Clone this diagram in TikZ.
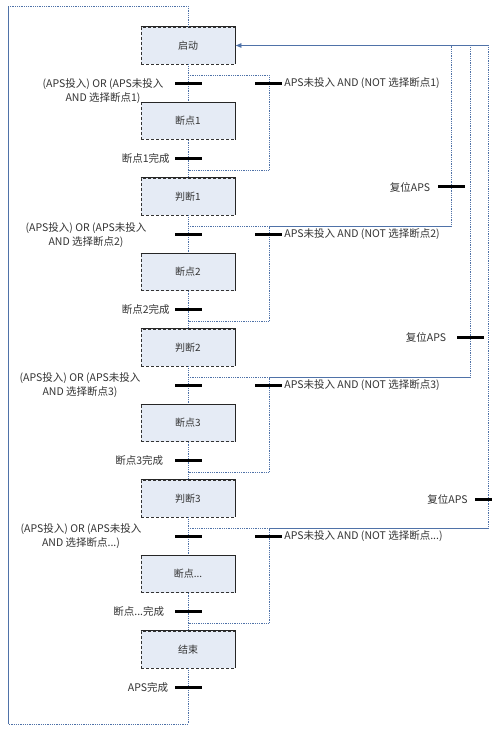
\documentclass[tikz,border=0pt]{standalone}
\usepackage{fontspec}
\setmainfont{Noto Sans CJK SC}
\usetikzlibrary{arrows.meta}
\definecolor{linec}{HTML}{4F72A8}
\definecolor{boxfill}{HTML}{E5EBF5}
\definecolor{txt}{HTML}{333333}
\begin{document}
\begin{tikzpicture}[x=1pt,y=-1pt,
  font=\fontsize{10.5}{14}\selectfont, text=txt,
  stepbox/.style={draw=black!80, densely dashed, fill=boxfill, minimum width=94pt, minimum height=37pt, inner sep=0pt, line width=0.7pt, font=\fontsize{10}{12}\selectfont},
  bar/.style={fill=black, draw=none, minimum width=27pt, minimum height=3pt, inner sep=0pt},
  flow/.style={draw=linec, densely dotted, line width=0.8pt},
  sflow/.style={draw=linec, line width=0.7pt},
  lbl/.style={inner sep=0pt}]
\useasboundingbox (0,0) rectangle (495,735);
\fill[white] (0,0) rectangle (495,735);
% boxes
\node[stepbox] (b0) at (188,45.5) {启动};
\node[stepbox] (b1) at (188,121) {断点1};
\node[stepbox] (b2) at (188,196.5) {判断1};
\node[stepbox] (b3) at (188,272) {断点2};
\node[stepbox] (b4) at (188,347.5) {判断2};
\node[stepbox] (b5) at (188,423) {断点3};
\node[stepbox] (b6) at (188,498.5) {判断3};
\node[stepbox] (b7) at (188,574) {断点...};
\node[stepbox] (b8) at (188,649.5) {结束};
% box shadow edges (right and bottom solid)
\foreach \i in {0,1,2,3,4,5,6,7,8}
  \draw[black!85, line width=0.8pt] (b\i.north west) -- (b\i.north east) -- (b\i.south east);
% main flow
\foreach \i [evaluate=\i as \j using int(\i+1)] in {0,1,2,3,4,5,6,7}
  \draw[flow] (b\i.south) -- (b\j.north);
% left loop
\coordinate (lb) at (188,724);
\coordinate (lbl) at (8,724);
\coordinate (ltl) at (8,6);
\coordinate (lt) at (188,6);
\draw[flow] (b8.south) -- (lb) -- (lbl);
\draw[sflow] (lbl) -- (ltl);
\draw[flow] (ltl) -- (lt) -- (b0.north);
% skip branches
\foreach \j in {0,1,2,3}{
  \pgfmathsetmacro{\ytop}{45.5+151*\j+30}
  \pgfmathsetmacro{\ybot}{45.5+151*(\j+1)-26}
  \coordinate (s\j) at (188,\ytop);
  \coordinate (sr\j) at (269,\ytop);
  \coordinate (er\j) at (269,\ybot);
  \coordinate (e\j) at (188,\ybot);
  \draw[flow] (s\j) -- (sr\j) -- (er\j) -- (e\j);
}
% reset lines
\foreach \j/\X in {1/451,2/470,3/488}{
  \pgfmathsetmacro{\ytop}{45.5+151*\j+30}
  \coordinate (rx\j) at (\X,\ytop);
  \coordinate (ry\j) at (\X,45.5);
  \draw[sflow] (sr\j) -- (rx\j);
  \draw[flow] (rx\j) -- (ry\j);
}
\draw[sflow, -{Latex[length=6pt,width=5pt]}] (ry3) -- (b0.east);
% transition bars on main line
\foreach \i in {0,1,2,3,4,5,6,7,8}
  \node[bar] (t\i) at (188,{45.5+75.5*\i+37.75}) {};
% transition bars on branches
\foreach \j in {0,1,2,3}
  \node[bar] (r\j) at (268.5,{45.5+151*\j+37.75}) {};
% reset bars
\node[bar] (c1) at (451,187) {};
\node[bar] (c2) at (470,337) {};
\node[bar, minimum width=17pt] (c3) at (483.5,499) {};
% labels: left two-line
\node[lbl, align=center] (l0) at (103,91.5) {(APS投入) OR (APS未投入\\AND 选择断点1)};
\node[lbl, align=center] (l1) at (86,235) {(APS投入) OR (APS未投入\\AND 选择断点2)};
\node[lbl, align=center] (l2) at (80,385) {(APS投入) OR (APS未投入\\AND 选择断点3)};
\node[lbl, align=center] (l3) at (81,536) {(APS投入) OR (APS未投入\\AND 选择断点...)};
% labels: right of branch bars
\node[lbl, anchor=west] (rl0) at ([xshift=2pt]r0.east) {APS未投入 AND (NOT 选择断点1)};
\node[lbl, anchor=west] (rl1) at ([xshift=2pt]r1.east) {APS未投入 AND (NOT 选择断点2)};
\node[lbl, anchor=west] (rl2) at ([xshift=2pt]r2.east) {APS未投入 AND (NOT 选择断点3)};
\node[lbl, anchor=west] (rl3) at ([xshift=2pt]r3.east) {APS未投入 AND (NOT 选择断点...)};
% labels: completion
\node[lbl, anchor=east] (k1) at ([xshift=-4.5pt]t1.west) {断点1完成};
\node[lbl, anchor=east] (k3) at ([xshift=-4.5pt]t3.west) {断点2完成};
\node[lbl, anchor=east] (k5) at ([xshift=-11pt]t5.west) {断点3完成};
\node[lbl, anchor=east] (k7) at ([xshift=-10pt]t7.west) {断点...完成};
\node[lbl, anchor=east] (k8) at ([xshift=-6pt]t8.west) {APS完成};
% labels: reset
\node[lbl, anchor=east] (f1) at ([xshift=-7pt]c1.west) {复位APS};
\node[lbl, anchor=east] (f2) at ([xshift=-10pt]c2.west) {复位APS};
\node[lbl, anchor=east] (f3) at ([xshift=-7pt]c3.west) {复位APS};
\end{tikzpicture}
\end{document}
